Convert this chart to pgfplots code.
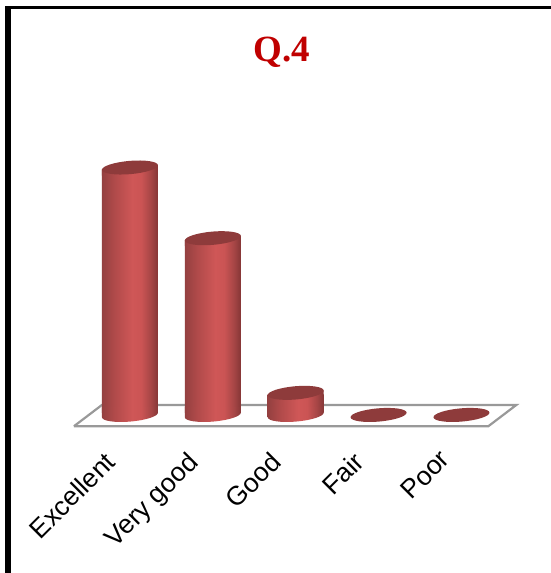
\documentclass[border=0pt]{standalone}
\usepackage{fontspec}
\setmainfont{Liberation Sans}
\newfontfamily\titlefont{Liberation Serif}
\usepackage{pgfplots}
\usepackage{pgfplotstable}
\pgfplotsset{compat=1.18}

\definecolor{capred}{HTML}{8E3B3B}
\definecolor{sideleft}{HTML}{944040}
\definecolor{sidemidl}{HTML}{B04A4A}
\definecolor{sidelight}{HTML}{CF5757}
\definecolor{sidemidr}{HTML}{CB5454}
\definecolor{sidedark}{HTML}{A54545}
\definecolor{sideright}{HTML}{853636}
\definecolor{titlered}{HTML}{C00000}
\definecolor{floorgray}{HTML}{999999}

% cylinder side, the middle 50bp are what the path sees
\pgfdeclarehorizontalshading{cyl}{100bp}{
  color(0bp)=(sideleft);
  color(25bp)=(sideleft);
  color(36bp)=(sidemidl);
  color(52bp)=(sidelight);
  color(60bp)=(sidemidr);
  color(69bp)=(sidedark);
  color(75bp)=(sideright);
  color(100bp)=(sideright)
}

\pgfdeclareplotmark{cylbase}{
  \pgfpathellipse{\pgfpointorigin}{\pgfpoint{28pt}{2.4pt}}{\pgfpoint{-0.55pt}{6.6pt}}
  \pgfpathmoveto{\pgfpoint{-28pt}{-2.4pt}}
  \pgfpathlineto{\pgfpoint{28pt}{2.4pt}}
  \pgfpathlineto{\pgfpoint{28pt}{8pt}}
  \pgfpathlineto{\pgfpoint{-28pt}{8pt}}
  \pgfpathclose
  \pgfshadepath{cyl}{0}
  \pgfusepath{discard}
}
\pgfdeclareplotmark{cyltop}{
  \pgfpathmoveto{\pgfpoint{-28pt}{-2.4pt}}
  \pgfpathlineto{\pgfpoint{28pt}{2.4pt}}
  \pgfpathlineto{\pgfpoint{28pt}{-8pt}}
  \pgfpathlineto{\pgfpoint{-28pt}{-8pt}}
  \pgfpathclose
  \pgfshadepath{cyl}{0}
  \pgfusepath{discard}
  \pgfsetfillcolor{capred}
  \pgfpathellipse{\pgfpointorigin}{\pgfpoint{28pt}{2.4pt}}{\pgfpoint{-0.55pt}{6.6pt}}
  \pgfusepath{fill}
}
\pgfdeclareplotmark{cylflat}{
  \pgfsetfillcolor{capred}
  \pgfpathellipse{\pgfpointorigin}{\pgfpoint{28pt}{2.4pt}}{\pgfpoint{-0.55pt}{6.6pt}}
  \pgfusepath{fill}
}

\pgfplotstableread{
x v
0 56
1 40
2 5
3 0
4 0
}\answers

\begin{document}
\begin{tikzpicture}
  \begin{axis}[
    scale only axis,
    width=551pt,
    height=573pt,
    xmin=-1.568, xmax=5.078,
    ymin=-35.75, ymax=93.89,
    clip=false,
    axis line style={draw=none},
    major tick length=0pt,
    ytick=\empty,
    xtick={0,1,2,3,4},
    xticklabels={Excellent,Very good,Good,Fair,Poor\kern-4pt},
    xticklabel style={
      font=\fontsize{26.5}{30}\selectfont,
      xshift=-18pt, yshift=114pt,
      rotate=45, anchor=east, inner sep=0pt,
      text height=19pt, text depth=5pt
    },
    title={\titlefont\bfseries Q.4},
    title style={
      at={(0.5118,0.8988)}, anchor=center, inner sep=0pt,
      text=titlered, font=\fontsize{37}{40}\selectfont
    },
    cylbar/.style={ybar, bar width=56pt, bar shift=0pt, yshift=2.3pt, draw=none,
      shade, shading=cyl, forget plot},
  ]
    % frame at the top and left of the slide
    \fill[black] (rel axis cs:0.0091,0) rectangle (rel axis cs:0.0194,0.9895);
    \fill[black] (rel axis cs:0.0091,0.9895) rectangle (rel axis cs:1,0.9843);

    % floor
    \addplot[floorgray, line width=2.2pt, line join=miter, forget plot] coordinates {
      (-0.676,-2.56) (4.324,-2.56) (4.662,2.26) (-0.338,2.26) (-0.676,-2.56)
    };

    \addplot[only marks, mark=cylbase, restrict x to domain=0:2, forget plot] table[x=x, y expr=0] {\answers};
    % one plot per bar, or the shading runs over all three
    \addplot[cylbar, restrict x to domain=-0.1:0.1] table[x=x, y expr=\thisrow{v}-1] {\answers};
    \addplot[cylbar, restrict x to domain=0.9:1.1] table[x=x, y expr=\thisrow{v}-1] {\answers};
    \addplot[cylbar, restrict x to domain=1.9:2.1] table[x=x, y expr=\thisrow{v}-1] {\answers};
    \addplot[only marks, mark=cyltop, restrict x to domain=0:2, forget plot] table[x=x, y=v] {\answers};
    \addplot[only marks, mark=cylflat, restrict x to domain=3:4, forget plot] table[x=x, y=v] {\answers};
  \end{axis}
\end{tikzpicture}
\end{document}
